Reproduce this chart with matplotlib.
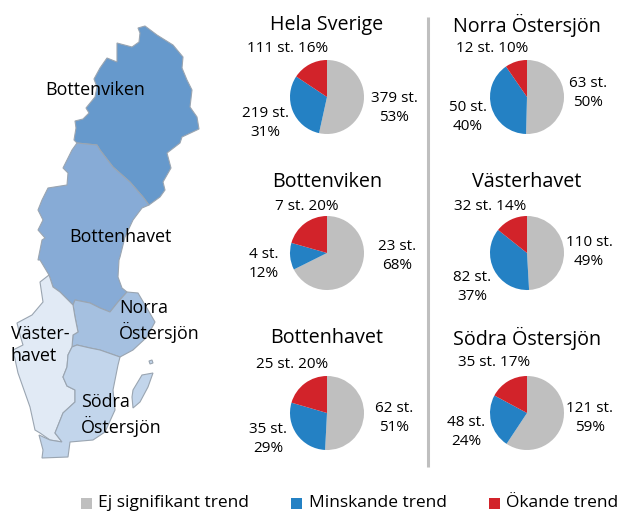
import matplotlib
matplotlib.use("Agg")
import matplotlib.pyplot as plt
from matplotlib.patches import Polygon

plt.rcParams["font.family"] = ["Open Sans", "DejaVu Sans"]

W, H = 627, 526

# pie data, order: ej signifikant, minskande, okande
titles = ["Hela Sverige", "Norra Östersjön", "Bottenviken", "Västerhavet", "Bottenhavet", "Södra Östersjön"]
ej_sign = [379, 63, 23, 110, 62, 121]
minskande = [219, 50, 4, 82, 35, 48]
okande = [111, 12, 7, 32, 25, 35]
ej_pct = [53, 50, 68, 49, 51, 59]
min_pct = [31, 40, 12, 37, 29, 24]
oka_pct = [16, 10, 20, 14, 20, 17]

legend_labels = ["Ej signifikant trend", "Minskande trend", "Ökande trend"]
colors = ["#BFBFBF", "#2481C4", "#D2232A"]

# layout in picture pixels
pie_x = [327, 527, 327, 527, 327, 527]
pie_y = [97, 97, 253, 253, 413, 413]
title_y = [25, 25, 182, 182, 338, 338]
ej_pos = [(394, 108), (588, 93), (397, 256), (589, 252), (394, 418), (590, 418)]
min_pos = [(265, 123), (468, 117), (264, 264), (472, 287), (268, 439), (466, 432)]
oka_pos = [(288, 49), (492, 49), (307, 206), (490, 206), (292, 364), (494, 363)]

# map outlines
bottenviken = [(138, 28), (145, 26), (157, 35), (173, 45), (183, 57), (182, 68), (187, 80), (192, 90),
               (190, 107), (197, 117), (199, 129), (182, 137), (180, 143), (167, 153), (171, 168),
               (163, 182), (165, 190), (160, 197), (149, 205), (143, 197), (130, 182), (113, 167),
               (100, 150), (97, 145), (77, 143), (74, 140), (76, 128), (75, 121), (83, 119), (89, 113),
               (86, 108), (95, 97), (97, 87), (94, 79), (100, 68), (107, 58), (117, 62), (117, 43),
               (132, 47), (139, 42), (140, 33)]
bottenhavet = [(77, 143), (97, 145), (100, 150), (113, 167), (130, 182), (143, 197), (149, 205), (142, 208),
               (133, 220), (125, 237), (120, 257), (119, 260), (118, 277), (122, 288), (127, 292), (118, 302),
               (110, 312), (100, 308), (90, 303), (75, 300), (73, 305), (60, 292), (53, 287), (49, 275),
               (40, 260), (38, 260), (42, 240), (45, 238), (38, 230), (43, 220), (38, 210), (42, 200),
               (48, 188), (67, 185), (68, 173), (63, 168), (72, 150)]
norra = [(127, 292), (138, 293), (148, 310), (155, 322), (147, 337), (133, 350), (120, 357), (100, 350),
         (90, 348), (77, 345), (72, 347), (73, 335), (78, 332), (75, 317), (73, 305), (75, 300), (90, 303),
         (100, 308), (110, 312), (118, 302)]
vasterhavet = [(49, 275), (53, 287), (60, 292), (73, 305), (75, 317), (78, 332), (73, 335), (72, 347),
               (68, 355), (67, 367), (63, 377), (67, 386), (75, 390), (75, 402), (63, 413), (55, 433),
               (62, 442), (50, 440), (40, 433), (35, 430), (30, 407), (18, 373), (13, 350), (23, 345),
               (20, 335), (17, 323), (32, 315), (43, 302), (40, 282)]
sodra = [(72, 347), (77, 345), (90, 348), (100, 350), (120, 357), (118, 365), (113, 390), (115, 410),
         (105, 432), (93, 440), (70, 442), (68, 457), (42, 458), (43, 450), (39, 435), (50, 440), (62, 442),
         (55, 433), (63, 413), (75, 402), (75, 390), (67, 386), (63, 377), (67, 367), (68, 355)]
gotland = [(133, 390), (142, 375), (153, 373), (148, 387), (140, 402), (133, 408), (132, 397)]
faro = [(149, 361), (152, 360), (153, 363), (150, 364)]

map_parts = [(bottenviken, "#6699CC"), (bottenhavet, "#87ABD6"), (norra, "#A5C0E0"),
             (vasterhavet, "#E1EAF5"), (sodra, "#C2D5EB"), (gotland, "#C2D5EB"), (faro, "#C2D5EB")]
map_labels = ["Bottenviken", "Bottenhavet", "Norra\nÖstersjön", "Väster-\nhavet", "Södra\nÖstersjön"]
map_label_x = [45, 69, 119, 11, 81]
map_label_y = [90, 237, 321, 345, 415]


def main():
    fig = plt.figure(figsize=(W / 100, H / 100), dpi=100)
    ax = fig.add_axes([0, 0, 1, 1])

    for outline, color in map_parts:
        ax.add_patch(Polygon(outline, closed=True, facecolor=color, edgecolor="#9AA5B1", linewidth=0.8))

    for label, x, y in zip(map_labels, map_label_x, map_label_y):
        ax.text(x, y, label, fontsize=12.9, ha="left", va="center", linespacing=1.3)

    for i, title in enumerate(titles):
        values = [ej_sign[i], minskande[i], okande[i]]
        # y axis runs downward, so this goes clockwise from twelve o'clock on screen
        ax.pie(values, colors=colors, center=(pie_x[i], pie_y[i]), radius=37,
               startangle=-90, counterclock=True, frame=True)
        ax.text(pie_x[i], title_y[i], title, fontsize=14.2, ha="center", va="center")
        ax.text(*ej_pos[i], f"{ej_sign[i]} st.\n{ej_pct[i]}%", fontsize=11, ha="center", va="center", linespacing=1.4)
        ax.text(*min_pos[i], f"{minskande[i]} st.\n{min_pct[i]}%", fontsize=11, ha="center", va="center", linespacing=1.4)
        ax.text(*oka_pos[i], f"{okande[i]} st. {oka_pct[i]}%", fontsize=11, ha="center", va="center")

    # divider between the pie columns
    ax.plot([428, 428], [17, 467], color="#BFBFBF", linewidth=2.2, solid_capstyle="butt")

    # legend
    for label, color, x_box, x_text in zip(legend_labels, colors, [81, 291, 489], [98, 309, 506]):
        ax.add_patch(plt.Rectangle((x_box, 498), 11, 11, facecolor=color, edgecolor="none"))
        ax.text(x_text, 503, label, fontsize=12.5, ha="left", va="center")

    ax.set_xlim(0, W)
    ax.set_ylim(H, 0)
    ax.set_aspect("equal")
    ax.axis("off")
    fig.savefig("out.png", dpi=100, facecolor="white")


if __name__ == "__main__":
    main()
